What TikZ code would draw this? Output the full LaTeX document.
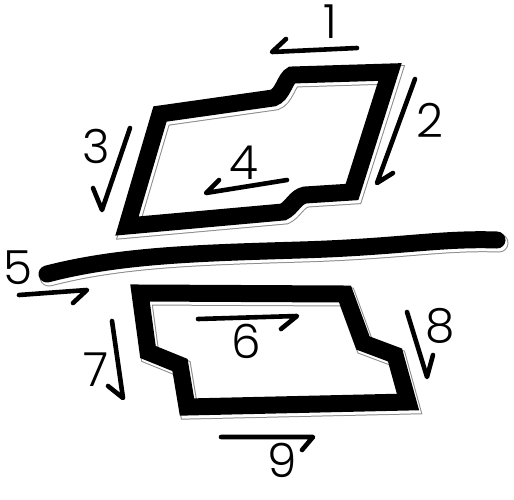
\documentclass[tikz,border=0pt]{standalone}
\usepackage{fontspec}
\IfFontExistsTF{Poppins Light}{\setmainfont{Poppins Light}}{\setmainfont{Poppins}}
\begin{document}
\begin{tikzpicture}[x=1pt,y=-1pt,
  brush/.style={line width=4.6pt,line cap=round,line join=round,black},
  thick outline/.style={line width=17pt,line join=miter,miter limit=3,line cap=round,black},
  shadowgray/.style={line width=19pt,line join=miter,miter limit=3,line cap=round,black!45},
  shadowwhite/.style={line width=17pt,line join=miter,miter limit=3,line cap=round,white},
  numlabel/.style={font=\fontsize{47}{47}\selectfont,inner sep=0pt}]
\useasboundingbox (0,0) rectangle (514,499);
% shadows
\begin{scope}[shift={(2,3)}]
  \draw[shadowgray] (292,75) -- (390,72) -- (352,192) -- (305,195) .. controls (295,197) and (292,208) .. (283,212) -- (127,226) -- (160,114) -- (273,98) .. controls (283,95) and (285,78) .. (292,75) -- cycle;
  \draw[shadowgray] (140,293) -- (345,294) -- (363,343) -- (395,355) -- (408,402) -- (187,407) -- (180,365) -- (148,352) -- cycle;
  \draw[shadowgray] (47,274) .. controls (120,255) and (200,253) .. (300,250) .. controls (400,247) and (440,238) .. (497,240);
  \draw[shadowwhite] (292,75) -- (390,72) -- (352,192) -- (305,195) .. controls (295,197) and (292,208) .. (283,212) -- (127,226) -- (160,114) -- (273,98) .. controls (283,95) and (285,78) .. (292,75) -- cycle;
  \draw[shadowwhite] (140,293) -- (345,294) -- (363,343) -- (395,355) -- (408,402) -- (187,407) -- (180,365) -- (148,352) -- cycle;
  \draw[shadowwhite] (47,274) .. controls (120,255) and (200,253) .. (300,250) .. controls (400,247) and (440,238) .. (497,240);
\end{scope}
% thick outlines
\draw[thick outline] (292,75) -- (390,72) -- (352,192) -- (305,195) .. controls (295,197) and (292,208) .. (283,212) -- (127,226) -- (160,114) -- (273,98) .. controls (283,95) and (285,78) .. (292,75) -- cycle;
\draw[thick outline] (140,293) -- (345,294) -- (363,343) -- (395,355) -- (408,402) -- (187,407) -- (180,365) -- (148,352) -- cycle;
\draw[thick outline] (47,274) .. controls (120,255) and (200,253) .. (300,250) .. controls (400,247) and (440,238) .. (497,240);
% arrow coordinates
\coordinate (a1s) at (357,48); \coordinate (a1t) at (272,52); \coordinate (a1h) at (286,39);
\coordinate (a2s) at (415,79); \coordinate (a2t) at (377,183); \coordinate (a2h) at (393,173);
\coordinate (a3s) at (130,128); \coordinate (a3t) at (102,210); \coordinate (a3h) at (93,188);
\coordinate (a4s) at (287,180); \coordinate (a4t) at (206,193); \coordinate (a4h) at (219,180);
\coordinate (a5s) at (19,295); \coordinate (a5t) at (87,290); \coordinate (a5h) at (73,303);
\coordinate (a6s) at (198,319); \coordinate (a6t) at (297,316); \coordinate (a6h) at (281,329);
\coordinate (a7s) at (112,321); \coordinate (a7t) at (123,398); \coordinate (a7h) at (108,386);
\coordinate (a8s) at (407,312); \coordinate (a8t) at (427,377); \coordinate (a8h) at (433,355);
\coordinate (a9s) at (221,437); \coordinate (a9t) at (313,437); \coordinate (a9h) at (302,450);
\foreach \i in {1,...,9}{
  \draw[brush] (a\i s) -- (a\i t) -- (a\i h);
}
% labels
\node[numlabel] (n1) at (330,22) {1};
\node[numlabel] (n2) at (430,120) {2};
\node[numlabel] (n3) at (96,146) {3};
\node[numlabel] (n4) at (244,163) {4};
\node[numlabel] (n5) at (18,268) {5};
\node[numlabel] (n6) at (246,341) {6};
\node[numlabel] (n7) at (96,370) {7};
\node[numlabel] (n8) at (440,326) {8};
\node[numlabel] (n9) at (282,460) {9};
\end{tikzpicture}
\end{document}
